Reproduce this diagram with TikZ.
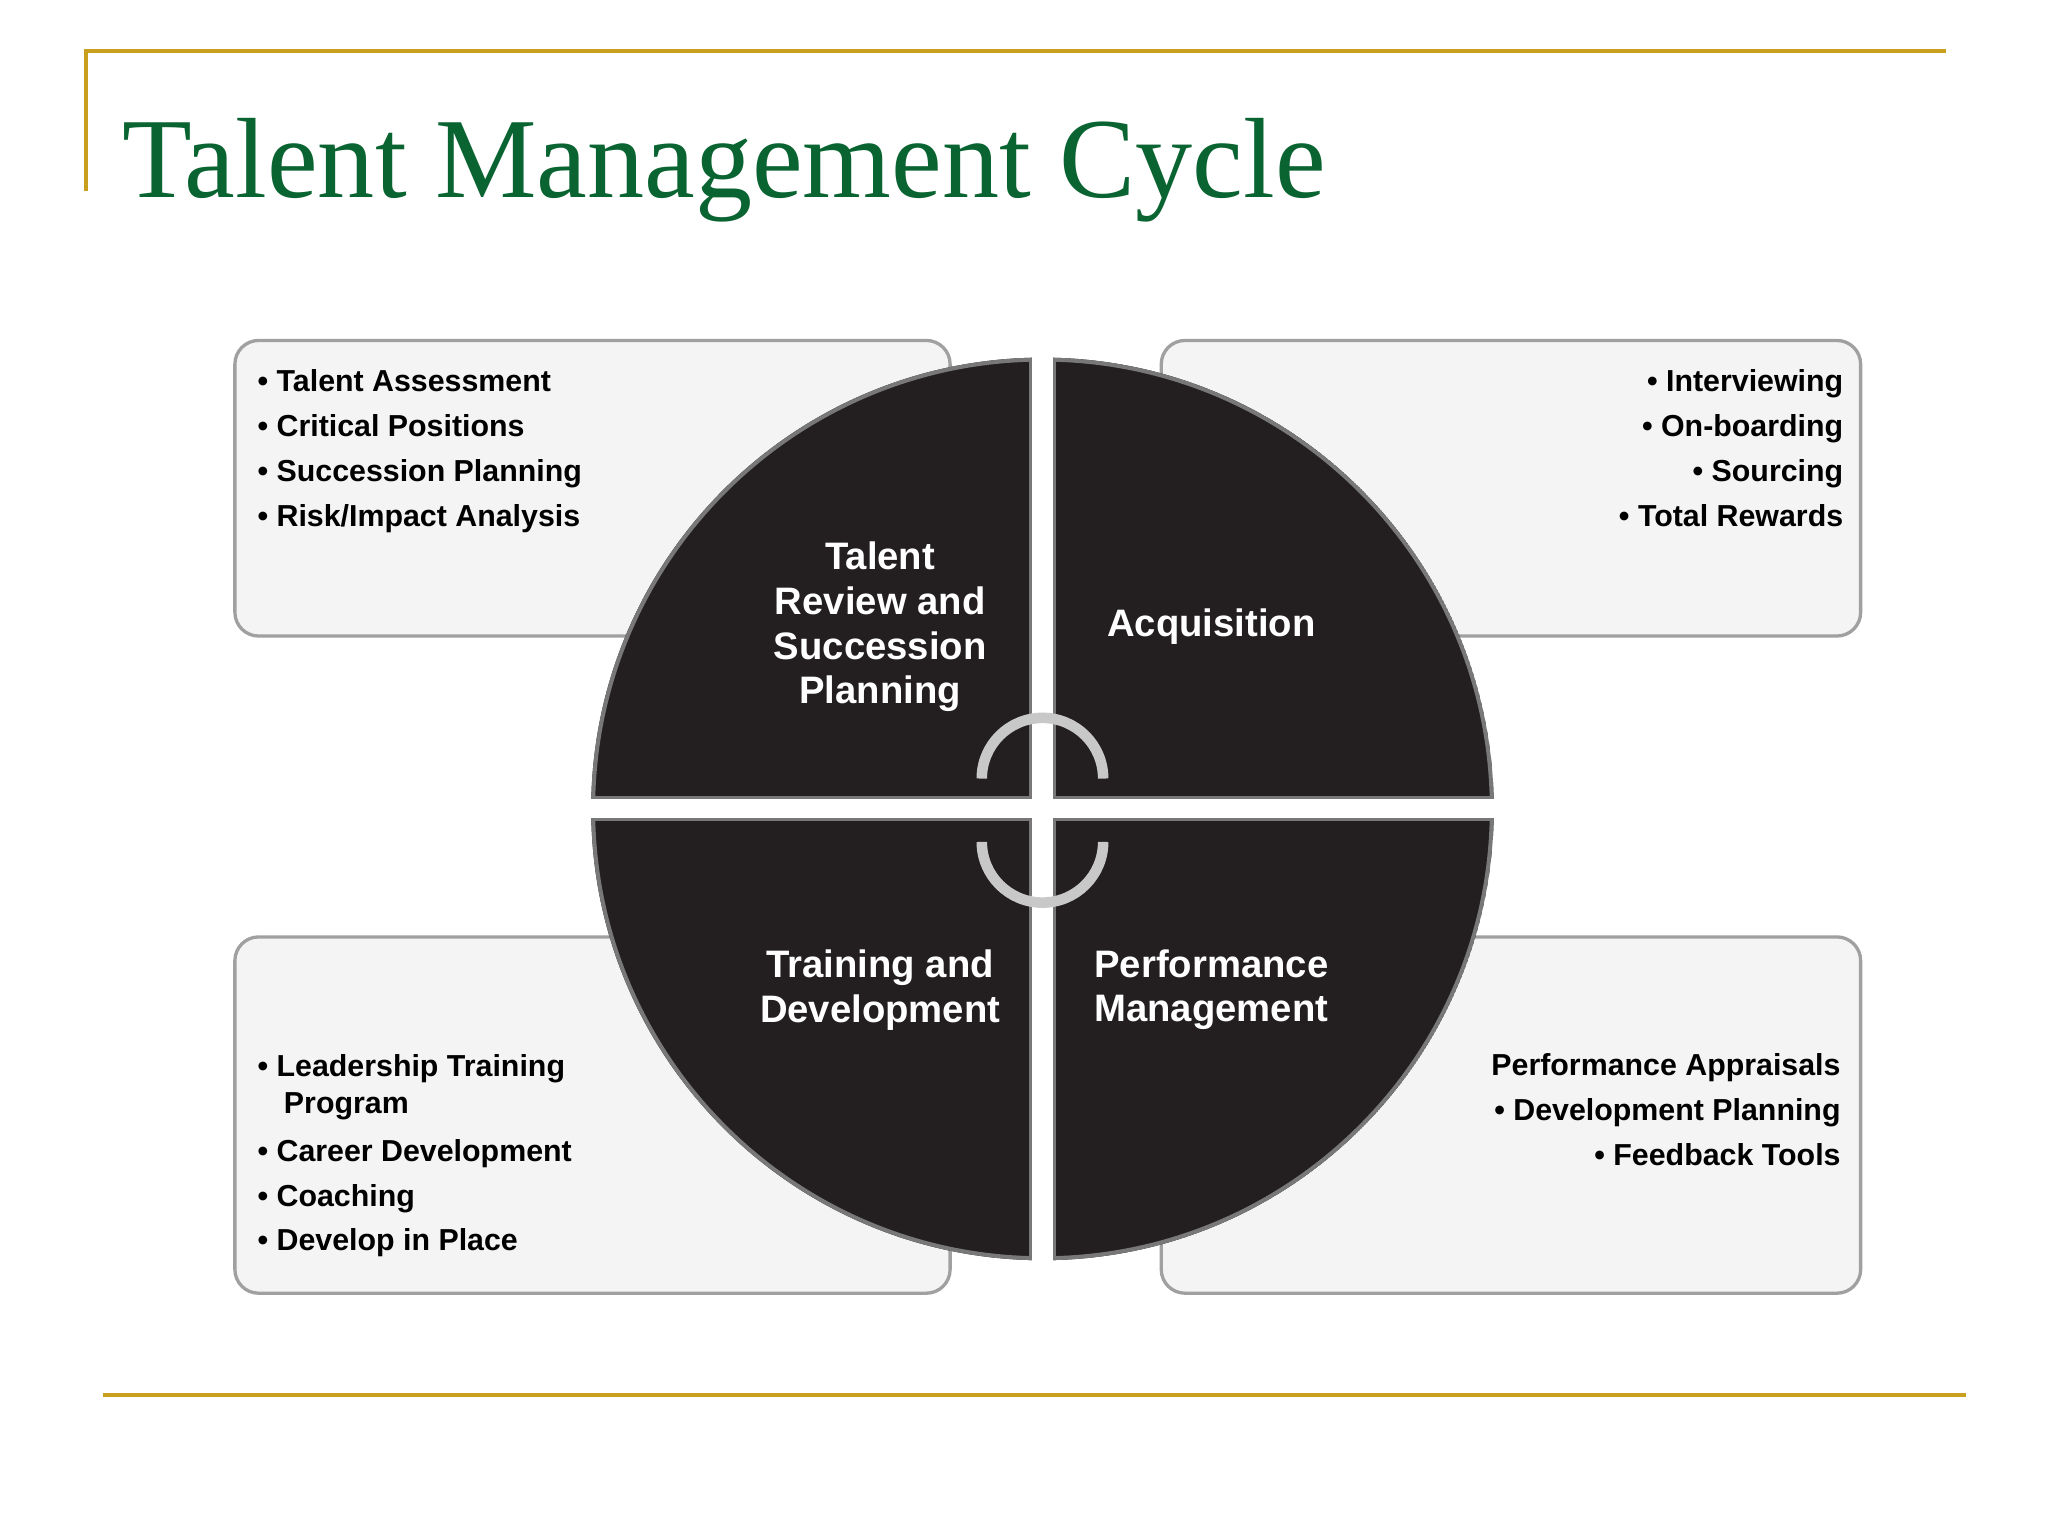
\documentclass[tikz,border=0pt]{standalone}
\usepackage{fontspec}
\setmainfont{Liberation Serif}
\setsansfont{Liberation Sans}
\definecolor{dark}{RGB}{35,31,32}
\definecolor{titlegreen}{RGB}{10,100,50}
\definecolor{goldc}{RGB}{200,160,30}
\definecolor{boxline}{RGB}{160,160,160}
\definecolor{boxfill}{RGB}{244,244,244}
\definecolor{qline}{RGB}{120,120,120}
\definecolor{arcc}{RGB}{200,200,200}
\begin{document}
\begin{tikzpicture}[x=1pt,y=-1pt,
  gold/.style={draw=goldc,line width=3pt},
  infobox/.style={draw=boxline,fill=boxfill,line width=2.5pt,rounded corners=18pt},
  quadtext/.style={text=white,font=\sffamily\bfseries\fontsize{29}{34}\selectfont,align=center},
  listtxt/.style={font=\sffamily\bfseries\fontsize{23}{34}\selectfont,inner sep=0pt}]
\useasboundingbox (0,0) rectangle (1552,1164);
\fill[white] (0,0) rectangle (1552,1164);
\coordinate (tl) at (65,145); \coordinate (tc) at (65,39); \coordinate (tr) at (1475,39);
\draw[gold] (tl) -- (tc) -- (tr);
\coordinate (bl) at (78,1057); \coordinate (br) at (1490,1057);
\draw[gold] (bl) -- (br);
\node[anchor=base west,inner sep=0pt,text=titlegreen,font=\fontsize{86.5}{92}\selectfont] (title) at (93,150) {Talent Management Cycle};
\draw[infobox] (178,258) rectangle (720,482);
\draw[infobox] (880,258) rectangle (1410,482);
\draw[infobox] (178,710) rectangle (720,980);
\draw[infobox] (880,710) rectangle (1410,980);
\coordinate (c) at (790,613);
\foreach \xa/\xb/\ya/\yb in {400/782/200/605, 798/1180/200/605, 400/782/620/1030, 798/1180/620/1030}{
  \begin{scope}
    \clip (\xa,\ya) rectangle (\xb,\yb);
    \clip (c) circle (342);
    \fill[dark] (c) circle (342);
    \draw[qline,line width=6pt] (c) circle (342);
    \draw[qline,line width=4pt] (\xa,\ya) rectangle (\xb,\yb);
  \end{scope}
}
\draw[arcc,line width=8pt] (744,590) arc (180:360:46);
\draw[arcc,line width=8pt] (744,638) arc (180:0:46);
\node[quadtext] (q1) at (667,475) {Talent\\Review and\\Succession\\Planning};
\node[quadtext] (q2) at (918,475) {Acquisition};
\node[quadtext] (q3) at (667,750) {Training and\\Development};
\node[quadtext] (q4) at (918,750) {Performance\\Management};
\node[listtxt,anchor=base west] (a1) at (195,297) {• Talent Assessment};
\node[listtxt,anchor=base west] (a2) at (195,331) {• Critical Positions};
\node[listtxt,anchor=base west] (a3) at (195,365) {• Succession Planning};
\node[listtxt,anchor=base west] (a4) at (195,399) {• Risk/Impact Analysis};
\node[listtxt,anchor=base east] (b1) at (1397,297) {• Interviewing};
\node[listtxt,anchor=base east] (b2) at (1397,331) {• On-boarding};
\node[listtxt,anchor=base east] (b3) at (1397,365) {• Sourcing};
\node[listtxt,anchor=base east] (b4) at (1397,399) {• Total Rewards};
\node[listtxt,anchor=base west] (d1) at (195,816) {• Leadership Training};
\node[listtxt,anchor=base west] (d2) at (215,844) {Program};
\node[listtxt,anchor=base west] (d3) at (195,880) {• Career Development};
\node[listtxt,anchor=base west] (d4) at (195,914) {• Coaching};
\node[listtxt,anchor=base west] (d5) at (195,948) {• Develop in Place};
\node[listtxt,anchor=base east] (e1) at (1395,815) {Performance Appraisals};
\node[listtxt,anchor=base east] (e2) at (1395,849) {• Development Planning};
\node[listtxt,anchor=base east] (e3) at (1395,883) {• Feedback Tools};
\end{tikzpicture}
\end{document}
